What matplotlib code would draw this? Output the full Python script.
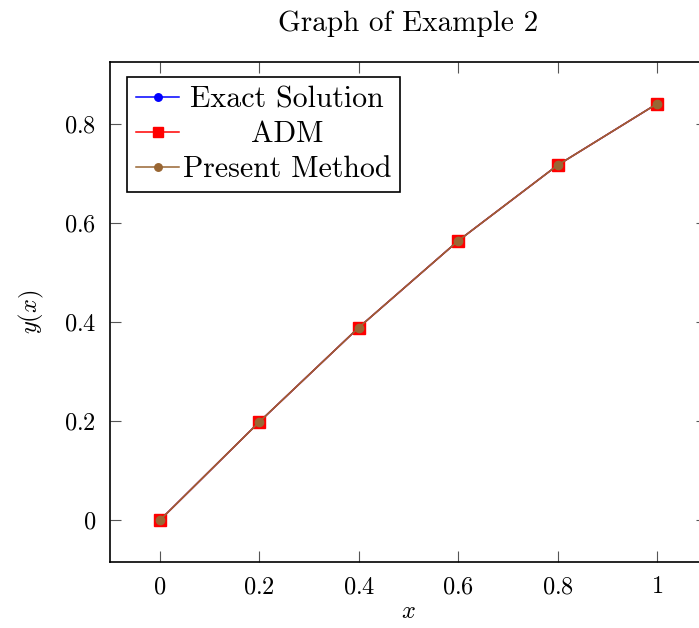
import numpy as np
import matplotlib
matplotlib.use("Agg")
import matplotlib.pyplot as plt

x_vals = [0.0, 0.2, 0.4, 0.6, 0.8, 1.0]
exact = [0.0, 0.1987, 0.3894, 0.5646, 0.7174, 0.8415]
adm = [0.0, 0.1987, 0.3894, 0.5646, 0.7174, 0.8415]
present = [0.0, 0.1987, 0.3894, 0.5646, 0.7174, 0.8415]
xticks = [0, 0.2, 0.4, 0.6, 0.8, 1]
xtick_labels = ["$0$", "$0.2$", "$0.4$", "$0.6$", "$0.8$", "$1$"]
yticks = [0, 0.2, 0.4, 0.6, 0.8]
ytick_labels = ["$0$", "$0.2$", "$0.4$", "$0.6$", "$0.8$"]

plt.rcParams['mathtext.fontset'] = 'cm'
plt.rcParams['font.family'] = 'serif'
plt.rcParams['font.serif'] = ['cmr10', 'DejaVu Serif']
plt.rcParams['axes.formatter.use_mathtext'] = True

fig = plt.figure(figsize=(6.99, 6.28), dpi=100)
ax = fig.add_axes([110/699, 66/628, 597/699, 500/628])

brown = (0.6, 0.4, 0.2)
ax.plot(x_vals, exact, color='blue', marker='o', markersize=6, lw=1.1, label='Exact Solution')
ax.plot(x_vals, adm, color='red', marker='s', markersize=8, lw=1.1, label='ADM')
ax.plot(x_vals, present, color=brown, marker='o', markersize=6, lw=1.1, label='Present Method')

ax.set_xlim(-0.1, 1.1)
ax.set_ylim(-0.0841, 0.9256)
ax.set_xticks(xticks)
ax.set_xticklabels(xtick_labels)
ax.set_yticks(yticks)
ax.set_yticklabels(ytick_labels)
ax.tick_params(direction='in', length=8, width=0.8, color='#555555', labelsize=17.5,
               top=True, right=True, pad=10)
for s in ax.spines.values():
    s.set_linewidth(1.2)

ax.set_xlabel('$x$', fontsize=17.5, labelpad=2)
ax.set_ylabel('$y(x)$', fontsize=17.5, labelpad=13)
ax.set_title('Graph of Example 2', fontsize=21, pad=22)

leg = ax.legend(loc='upper left', bbox_to_anchor=(17/597, 1 - 15/500), borderaxespad=0,
                fontsize=21.5, frameon=True, fancybox=False, edgecolor='black',
                framealpha=1, handlelength=1.45, handletextpad=0.12, borderpad=0.3,
                labelspacing=0.25, markerscale=0.9)
leg.get_frame().set_linewidth(1.2)

fig.canvas.draw()
texts = leg.get_texts()
widths = [t.get_window_extent().width for t in texts]
maxw = max(widths)
for t, w in zip(texts, widths):
    t.set_position(((maxw - w) / 2, 0))

fig.savefig('out.png', dpi=100)
